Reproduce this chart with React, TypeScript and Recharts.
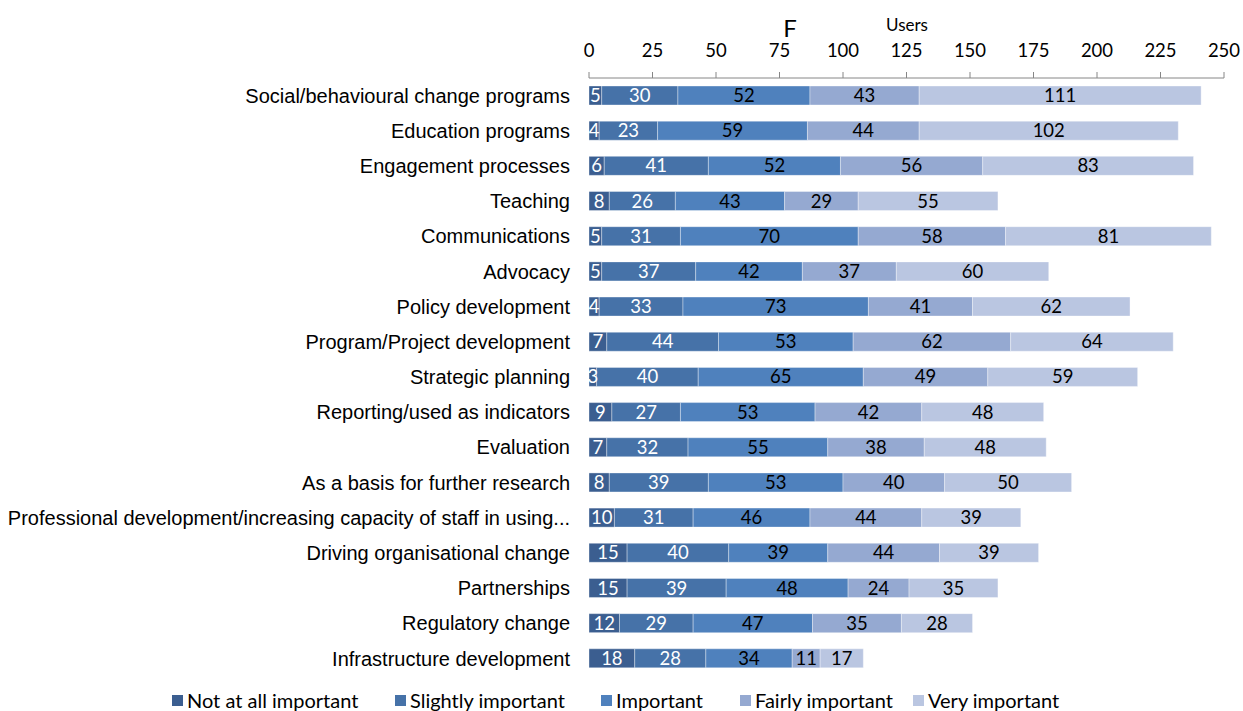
import React from 'react';
import { BarChart, Bar, XAxis, YAxis, LabelList } from 'recharts';

const categories = [
  'Social/behavioural change programs',
  'Education programs',
  'Engagement processes',
  'Teaching',
  'Communications',
  'Advocacy',
  'Policy development',
  'Program/Project development',
  'Strategic planning',
  'Reporting/used as indicators',
  'Evaluation',
  'As a basis for further research',
  'Professional development/increasing capacity of staff in using...',
  'Driving organisational change',
  'Partnerships',
  'Regulatory change',
  'Infrastructure development',
];

const notAtAll = [5, 4, 6, 8, 5, 5, 4, 7, 3, 9, 7, 8, 10, 15, 15, 12, 18];
const slightly = [30, 23, 41, 26, 31, 37, 33, 44, 40, 27, 32, 39, 31, 40, 39, 29, 28];
const important = [52, 59, 52, 43, 70, 42, 73, 53, 65, 53, 55, 53, 46, 39, 48, 47, 34];
const fairly = [43, 44, 56, 29, 58, 37, 41, 62, 49, 42, 38, 40, 44, 44, 24, 35, 11];
const very = [111, 102, 83, 55, 81, 60, 62, 64, 59, 48, 48, 50, 39, 39, 35, 28, 17];

const xTicks = [0, 25, 50, 75, 100, 125, 150, 175, 200, 225, 250];
const boundaryTicks = Array.from({ length: categories.length + 1 }, (_, i) => i);

const series = [
  { key: 'notAtAll', name: 'Not at all important', color: '#3B5E90', text: '#ffffff' },
  { key: 'slightly', name: 'Slightly important', color: '#4672A8', text: '#ffffff' },
  { key: 'important', name: 'Important', color: '#4F81BD', text: '#000000' },
  { key: 'fairly', name: 'Fairly important', color: '#95A9D1', text: '#000000' },
  { key: 'very', name: 'Very important', color: '#BAC6E1', text: '#000000' },
];

const data = categories.map((c, i) => ({
  name: c,
  notAtAll: notAtAll[i],
  slightly: slightly[i],
  important: important[i],
  fairly: fairly[i],
  very: very[i],
}));

const legendLeft = [172, 395, 601, 740, 913];

const numFont = 'Lato, "Open Sans", sans-serif';
const catFont = '"Liberation Sans", Arial, sans-serif';

export default function App() {
  return (
    <div style={{ position: 'absolute', left: 0, top: 0, width: 1243, height: 711, background: '#fff', overflow: 'hidden' }}>
      <BarChart
        width={1243}
        height={711}
        data={data}
        layout="vertical"
        margin={{ top: 0, right: 19, bottom: 35, left: 0 }}
        barSize={19}
      >
        <XAxis
          type="number"
          orientation="top"
          domain={[0, 250]}
          ticks={xTicks}
          interval={0}
          height={78}
          tickSize={6}
          tickMargin={15}
          stroke="#868686"
          tick={{ fill: '#000', fontSize: 18.5, fontFamily: numFont }}
        />
        <YAxis
          yAxisId="grid"
          type="number"
          orientation="left"
          domain={[0, categories.length]}
          ticks={boundaryTicks}
          interval={0}
          width={0}
          tick={false}
          tickSize={6}
          stroke="#868686"
        />
        <YAxis
          yAxisId="cat"
          type="category"
          dataKey="name"
          orientation="left"
          width={589}
          axisLine={false}
          tickLine={false}
          tickSize={0}
          tickMargin={19}
          interval={0}
          tick={{ fill: '#000', fontSize: 20, fontFamily: catFont }}
        />
        {series.map((s) => (
          <Bar
            key={s.key}
            dataKey={s.key}
            name={s.name}
            stackId="a"
            yAxisId="cat"
            fill={s.color}
            stroke="rgba(255,255,255,0.45)"
            strokeWidth={0.8}
            isAnimationActive={false}
          >
            <LabelList
              dataKey={s.key}
              position="center"
              fill={s.text}
              style={{ fontSize: 18.5, fontFamily: numFont }}
            />
          </Bar>
        ))}
      </BarChart>
      <div style={{ position: 'absolute', left: 790, top: 28, transform: 'translate(-50%, -50%)', fontFamily: numFont, fontSize: 24, color: '#000', lineHeight: 1 }}>F</div>
      <div style={{ position: 'absolute', left: 907, top: 24, transform: 'translate(-50%, -50%)', fontFamily: numFont, fontSize: 17, color: '#000', lineHeight: 1 }}>Users</div>
      {series.map((s, i) => (
        <div
          key={s.key}
          style={{ position: 'absolute', left: legendLeft[i], top: 700, transform: 'translateY(-50%)', display: 'flex', alignItems: 'center', fontFamily: numFont, fontSize: 20, color: '#000', lineHeight: 1, whiteSpace: 'nowrap' }}
        >
          <span style={{ display: 'inline-block', width: 11, height: 11, background: s.color, marginRight: 4 }} />
          {s.name}
        </div>
      ))}
    </div>
  );
}
